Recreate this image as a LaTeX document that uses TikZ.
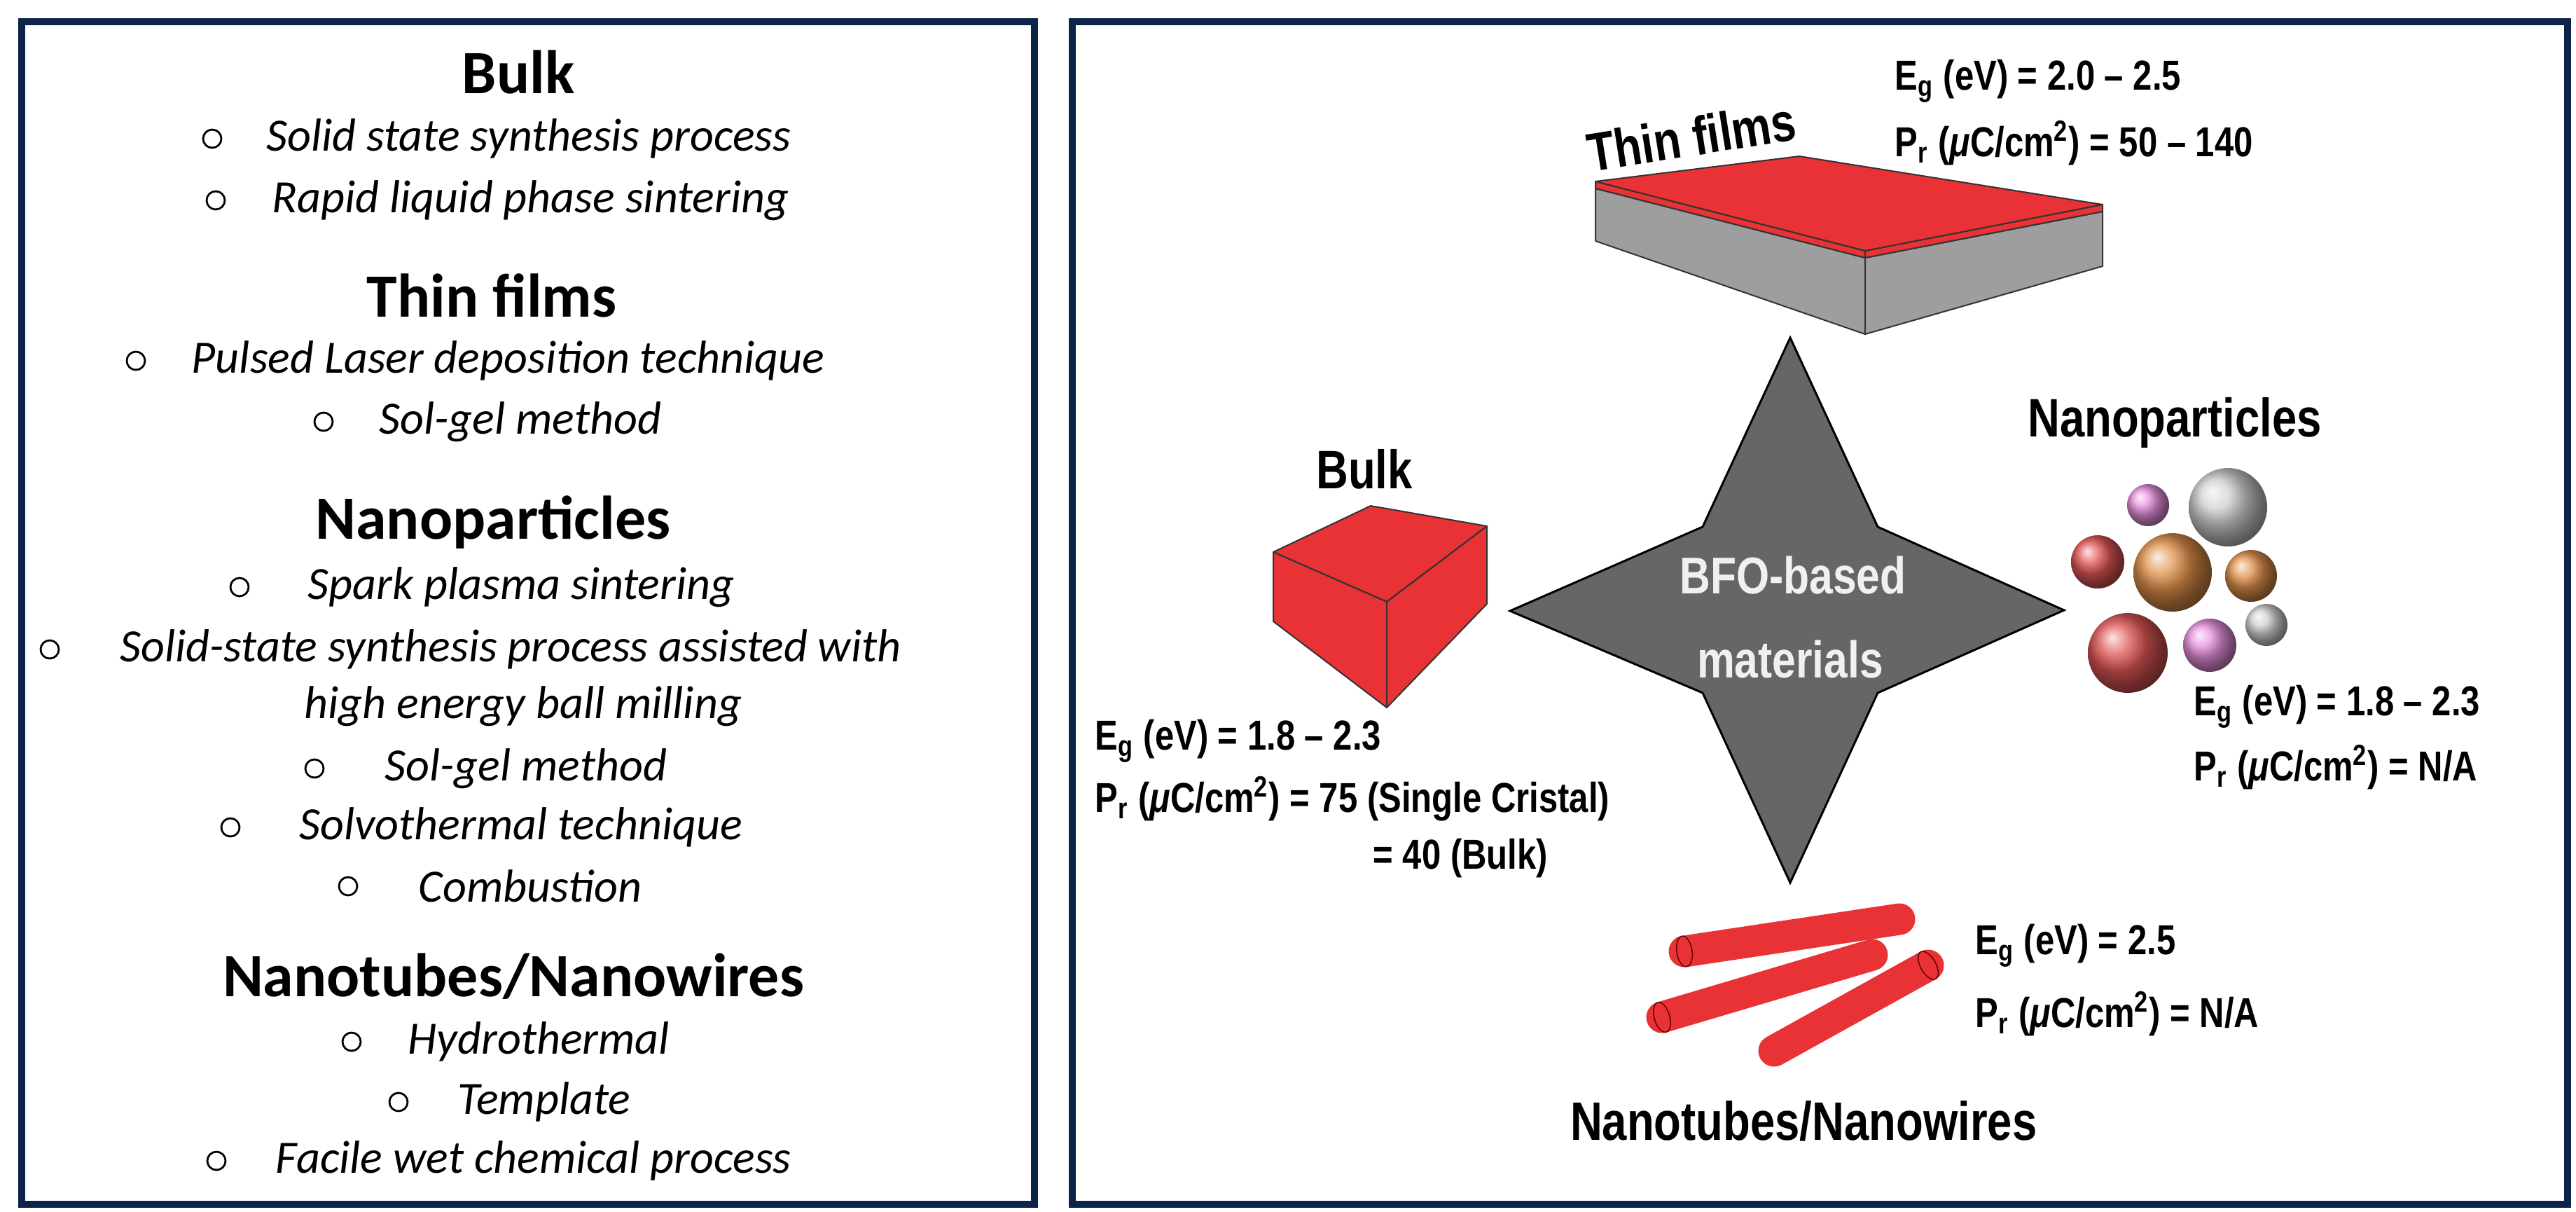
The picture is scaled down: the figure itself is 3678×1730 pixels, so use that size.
\documentclass[tikz,border=0pt]{standalone}
\usepackage{fontspec}
\setmainfont{Carlito}
\newfontfamily\ar{Liberation Sans}[FakeStretch=0.82]
\begin{document}
\begin{tikzpicture}[x=0.01cm,y=0.01cm,
  frame/.style={draw=navy,line width=0.1cm},
  head/.style={font=\fontsize{25}{28}\selectfont\bfseries,inner sep=0},
  item/.style={font=\fontsize{18.8}{21}\selectfont\itshape,anchor=west,inner sep=0},
  bul/.style={circle,draw=black,line width=0.028cm,minimum size=0.26cm,inner sep=0},
  lab/.style={font=\ar\fontsize{22}{24}\selectfont\bfseries,inner sep=0},
  dat/.style={font=\ar\fontsize{17}{19}\selectfont\bfseries,anchor=west,inner sep=0},
  face/.style={fill=filmred,draw=black!80,line width=0.02cm,line join=round},
  gface/.style={fill=slabgray,draw=black!80,line width=0.02cm,line join=round},
  tube/.style={draw=filmred,line width=0.45cm,line cap=round},
  rim/.style={draw=black!60!red,line width=0.015cm}]
\definecolor{navy}{HTML}{0C2448}
\definecolor{filmred}{HTML}{E83235}
\definecolor{slabgray}{HTML}{9E9E9E}
\definecolor{stargray}{HTML}{666666}
\definecolor{npred}{HTML}{E05555}
\definecolor{nporange}{HTML}{E0904A}
\definecolor{nppink}{HTML}{E690DC}
\definecolor{npgray}{HTML}{CFCFCF}
\useasboundingbox (0,0) rectangle (3678,-1730);
\fill[white] (0,0) rectangle (3678,-1730);
% frames
\draw[frame] (31,-31) rectangle (1477,-1719);
\draw[frame] (1531,-31) rectangle (3666,-1719);
% left panel
\node[head] (h1) at (740,-103) {Bulk};
\node[bul] (b1) at (303,-198) {}; \node[item] (i1) at (380,-198) {Solid state synthesis process};
\node[bul] (b2) at (308,-286) {}; \node[item] (i2) at (388,-286) {Rapid liquid phase sintering};
\node[head] (h2) at (702,-422) {Thin films};
\node[bul] (b3) at (194,-515) {}; \node[item] (i3) at (273,-515) {Pulsed Laser deposition technique};
\node[bul] (b4) at (462,-602) {}; \node[item] (i4) at (541,-602) {Sol-gel method};
\node[head] (h3) at (704,-745) {Nanoparticles};
\node[bul] (b5) at (342,-838) {}; \node[item] (i5) at (439,-838) {Spark plasma sintering};
\node[bul] (b6) at (71,-927) {}; \node[item] (i6) at (171,-927) {Solid-state synthesis process assisted with};
\node[item] (i7) at (434,-1008) {high energy ball milling};
\node[bul] (b8) at (449,-1097) {}; \node[item] (i8) at (549,-1097) {Sol-gel method};
\node[bul] (b9) at (329,-1181) {}; \node[item] (i9) at (427,-1181) {Solvothermal technique};
\node[bul] (b10) at (497,-1265) {}; \node[item] (i10) at (597,-1265) {Combustion};
\node[head] (h4) at (733,-1394) {Nanotubes/Nanowires};
\node[bul] (b11) at (502,-1487) {}; \node[item] (i11) at (582,-1487) {Hydrothermal};
\node[bul] (b12) at (569,-1573) {}; \node[item] (i12) at (653,-1573) {Template};
\node[bul] (b13) at (309,-1657) {}; \node[item] (i13) at (393,-1657) {Facile wet chemical process};
% star
\draw[fill=stargray,draw=black,line width=0.03cm,line join=miter]
  (2556,-482) -- (2681,-752) -- (2947,-871) -- (2681,-989) -- (2556,-1260)
  -- (2431,-989) -- (2156,-872) -- (2431,-752) -- cycle;
\node[lab,text=white!94!black,font=\ar\fontsize{21}{23}\selectfont\bfseries] (bfo1) at (2560,-821) {BFO-based};
\node[lab,text=white!94!black,font=\ar\fontsize{21}{23}\selectfont\bfseries] (bfo2) at (2556,-941) {materials};
% thin film slab
\draw[gface] (2278,-269) -- (2663,-368) -- (2663,-477) -- (2278,-344) -- cycle;
\draw[gface] (2663,-368) -- (3002,-302) -- (3002,-380) -- (2663,-477) -- cycle;
\draw[face] (2278,-259) -- (2663,-358) -- (2663,-368) -- (2278,-269) -- cycle;
\draw[face] (2663,-358) -- (3002,-292) -- (3002,-302) -- (2663,-368) -- cycle;
\draw[face] (2278,-259) -- (2569,-223) -- (3002,-292) -- (2663,-358) -- cycle;
\node[lab,rotate=9] (tf) at (2415,-195) {Thin films};
\node[dat] (tfe) at (2705,-116) {E\textsubscript{g} (eV) = 2.0 – 2.5};
\node[dat] (tfp) at (2705,-204) {P\textsubscript{r} (\textit{μ}C/cm\textsuperscript{2}) = 50 – 140};
% bulk cube
\draw[face] (1957,-722) -- (2123,-751) -- (1980,-859) -- (1818,-788) -- cycle;
\draw[face] (1818,-788) -- (1980,-859) -- (1980,-1010) -- (1818,-887) -- cycle;
\draw[face] (1980,-859) -- (2123,-751) -- (2123,-862) -- (1980,-1010) -- cycle;
\node[lab] (bk) at (1948,-670) {Bulk};
\node[dat] (bke) at (1563,-1058) {E\textsubscript{g} (eV) = 1.8 – 2.3};
\node[dat] (bkp) at (1563,-1140) {P\textsubscript{r} (\textit{μ}C/cm\textsuperscript{2}) = 75 (Single Cristal)};
\node[dat] (bkp2) at (1960,-1225) {= 40 (Bulk)};
% nanoparticles
\node[lab] (np) at (3105,-603) {Nanoparticles};
\shade[ball color=nppink] (3067,-721) circle (30);
\shade[ball color=npgray] (3181,-724) circle (56);
\shade[ball color=npred] (2995,-802) circle (38);
\shade[ball color=nporange] (3102,-817) circle (56);
\shade[ball color=nporange] (3214,-822) circle (37);
\shade[ball color=npgray] (3236,-892) circle (30);
\shade[ball color=npred] (3038,-932) circle (57);
\shade[ball color=nppink] (3155,-921) circle (38);
\node[dat] (npe) at (3132,-1009) {E\textsubscript{g} (eV) = 1.8 – 2.3};
\node[dat] (npp) at (3132,-1095) {P\textsubscript{r} (\textit{μ}C/cm\textsuperscript{2}) = N/A};
% nanotubes
\coordinate (t1a) at (2405,-1358); \coordinate (t1b) at (2712,-1312);
\coordinate (t2a) at (2373,-1452); \coordinate (t2b) at (2673,-1363);
\coordinate (t3a) at (2533,-1500); \coordinate (t3b) at (2753,-1378);
\draw[tube] (t1a) -- (t1b);
\draw[tube] (t2a) -- (t2b);
\draw[tube] (t3a) -- (t3b);
\draw[rim,rotate around={8.4:(t1a)}] (t1a) ellipse [x radius=11, y radius=22];
\draw[rim,rotate around={16.2:(t2a)}] (t2a) ellipse [x radius=11, y radius=22];
\draw[rim,rotate around={29:(t3b)}] (t3b) ellipse [x radius=11, y radius=22];
\node[dat] (nte) at (2820,-1350) {E\textsubscript{g} (eV) = 2.5};
\node[dat] (ntp) at (2820,-1447) {P\textsubscript{r} (\textit{μ}C/cm\textsuperscript{2}) = N/A};
\node[lab,anchor=east] (nt) at (2909,-1600) {Nanotubes/Nanowires};
\end{tikzpicture}
\end{document}
